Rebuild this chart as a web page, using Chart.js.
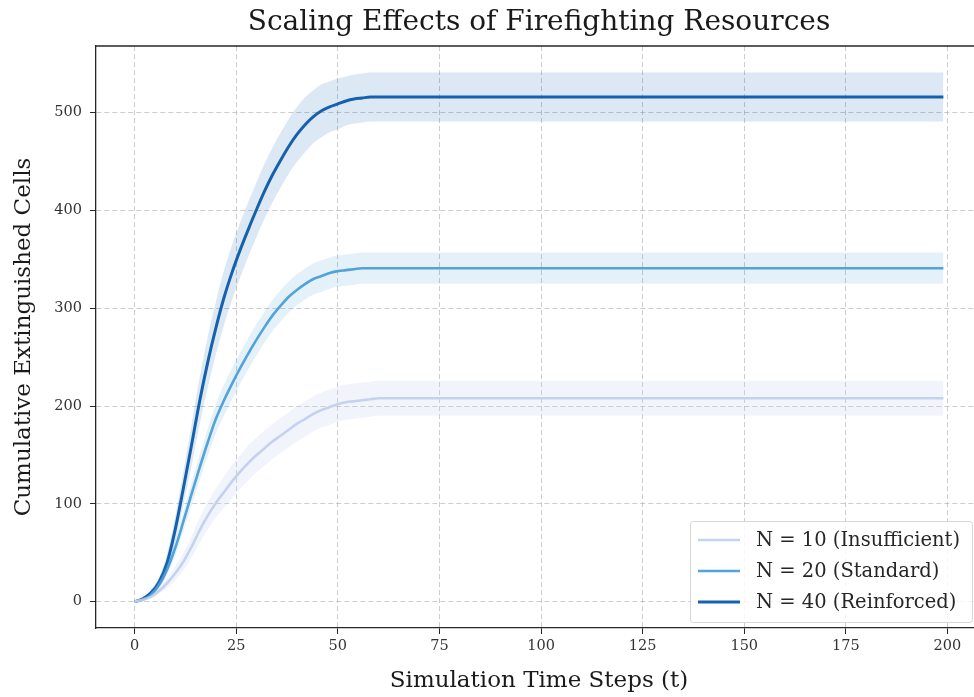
<!DOCTYPE html>
<html>
<head>
<meta charset="utf-8">
<script src="https://cdn.jsdelivr.net/npm/chart.js@4"></script>
<style>
  html, body { margin: 0; padding: 0; background: #fff; overflow: hidden; }
  #wrap { width: 982px; height: 697px; }
</style>
</head>
<body>
<div id="wrap"><canvas id="fireChart"></canvas></div>
<script>
const timeSteps = [0, 2, 4, 6, 8, 10, 12, 14, 16, 18, 20, 22, 24, 26, 28, 30, 32, 34, 36, 38, 40,
    42, 44, 46, 48, 50, 52, 54, 56, 58, 60, 70, 80, 90, 100, 110, 120, 130, 140, 150, 160, 170, 180, 190, 199];

// mean cumulative extinguished cells
const n10 = [0, 2, 5, 11, 19, 29, 41, 56, 73, 88, 101, 112, 123, 133, 142, 150, 157, 164, 170, 176, 182,
    187, 192, 196, 199, 202, 204, 205, 206, 207, 208, 208, 208, 208, 208, 208, 208, 208, 208, 208, 208, 208, 208, 208, 208];
const n20 = [0, 2, 7, 17, 33, 55, 82, 110, 137, 163, 187, 206, 223, 239, 254, 268, 281, 293, 303, 312, 319,
    325, 330, 333, 336, 338, 339, 340, 341, 341, 341, 341, 341, 341, 341, 341, 341, 341, 341, 341, 341, 341, 341, 341, 341];
const n40 = [0, 3, 9, 20, 40, 74, 116, 160, 205, 245, 280, 311, 337, 360, 381, 401, 420, 437, 452, 466, 478,
    488, 496, 502, 506, 509, 512, 514, 515, 516, 516, 516, 516, 516, 516, 516, 516, 516, 516, 516, 516, 516, 516, 516, 516];

// spread (std) around each mean
const sd10 = [0, 1, 2, 3, 5, 7, 9, 11, 13, 14, 15, 16, 17, 17, 18, 18, 18, 18, 18, 18, 18,
    18, 18, 18, 18, 18, 18, 18, 18, 18, 18, 18, 18, 18, 18, 18, 18, 18, 18, 18, 18, 18, 18, 18, 18];
const sd20 = [0, 1, 2, 4, 6, 8, 10, 12, 13, 14, 15, 16, 16, 16, 16, 16, 16, 16, 16, 16, 16,
    16, 16, 16, 16, 16, 16, 16, 16, 16, 16, 16, 16, 16, 16, 16, 16, 16, 16, 16, 16, 16, 16, 16, 16];
const sd40 = [0, 1, 3, 5, 9, 13, 17, 21, 24, 26, 27, 28, 28, 28, 28, 28, 28, 28, 28, 28, 28,
    28, 27, 27, 26, 26, 25, 25, 25, 25, 25, 25, 25, 25, 25, 25, 25, 25, 25, 25, 25, 25, 25, 25, 25];

const seriesLabels = ['N = 10 (Insufficient)', 'N = 20 (Standard)', 'N = 40 (Reinforced)'];
const seriesColors = ['#c6d3ef', '#52a4da', '#1562ae'];
const bandColors = ['rgba(198,211,239,0.24)', 'rgba(82,164,218,0.15)', 'rgba(21,98,174,0.15)'];
const xTicks = [0, 25, 50, 75, 100, 125, 150, 175, 200];
const yTicks = [0, 100, 200, 300, 400, 500];

const serif = "'DejaVu Serif', serif";
const means = [n10, n20, n40];
const sds = [sd10, sd20, sd40];

const pts = (vals) => timeSteps.map((t, i) => ({ x: t, y: vals[i] }));

const datasets = [];
means.forEach((m, k) => {
    datasets.push({
        label: 'upper' + k, data: pts(m.map((v, i) => v + sds[k][i])),
        borderWidth: 0, pointRadius: 0, fill: false, cubicInterpolationMode: 'monotone'
    });
    datasets.push({
        label: 'lower' + k, data: pts(m.map((v, i) => Math.max(0, v - sds[k][i]))),
        borderWidth: 0, pointRadius: 0, fill: '-1', backgroundColor: bandColors[k],
        cubicInterpolationMode: 'monotone'
    });
});
means.forEach((m, k) => {
    datasets.push({
        label: seriesLabels[k], data: pts(m),
        borderColor: seriesColors[k], borderWidth: k === 2 ? 3 : 2.6,
        pointRadius: 0, fill: false, cubicInterpolationMode: 'monotone'
    });
});

const framePlugin = {
    id: 'frame',
    afterDraw(chart) {
        const { ctx, chartArea: a } = chart;
        ctx.save();
        ctx.strokeStyle = '#262626';
        ctx.lineWidth = 1.3;
        ctx.beginPath();
        ctx.moveTo(a.left, a.top);
        ctx.lineTo(a.right, a.top);
        ctx.stroke();

        // title over the plot area
        ctx.fillStyle = '#1a1a1a';
        ctx.font = "28px " + serif;
        ctx.textAlign = 'center';
        ctx.textBaseline = 'middle';
        ctx.fillText('Scaling Effects of Firefighting Resources', (a.left + a.right) / 2, 23);

        // legend, lower right
        const bx = 690, by = 521, bw = 282, bh = 101;
        ctx.fillStyle = 'rgba(255,255,255,0.85)';
        ctx.strokeStyle = '#d6d6d6';
        ctx.lineWidth = 1;
        ctx.beginPath();
        ctx.roundRect(bx + 0.5, by + 0.5, bw, bh, 3);
        ctx.fill();
        ctx.stroke();
        ctx.font = "19.5px " + serif;
        ctx.textAlign = 'left';
        seriesLabels.forEach((lab, k) => {
            const yy = by + 19 + k * 31;
            ctx.strokeStyle = seriesColors[k];
            ctx.lineWidth = k === 2 ? 3 : 2.6;
            ctx.beginPath();
            ctx.moveTo(bx + 8, yy);
            ctx.lineTo(bx + 50, yy);
            ctx.stroke();
            ctx.fillStyle = '#262626';
            ctx.fillText(lab, bx + 66, yy + 1);
        });
        ctx.restore();
    }
};

const gridStyle = {
    color: 'rgba(170,170,170,0.6)',
    tickColor: '#262626',
    tickBorderDash: [],
    tickLength: 6,
    tickWidth: 1
};

new Chart(document.getElementById('fireChart'), {
    type: 'line',
    data: { datasets: datasets },
    plugins: [framePlugin],
    options: {
        responsive: true,
        maintainAspectRatio: false,
        animation: false,
        layout: { padding: { top: 46, left: 0, right: 0, bottom: 0 } },
        plugins: {
            legend: { display: false },
            title: { display: false },
            tooltip: { enabled: false }
        },
        scales: {
            x: {
                type: 'linear',
                min: -9.5,
                max: 208.5,
                afterFit: (s) => { s.height = 69; },
                afterBuildTicks: (s) => { s.ticks = xTicks.map(v => ({ value: v })); },
                grid: gridStyle,
                border: { color: '#262626', width: 1.3, dash: [5, 3] },
                ticks: { color: '#333', font: { family: serif, size: 14.5 }, padding: 4 },
                title: {
                    display: true, text: 'Simulation Time Steps (t)', color: '#1a1a1a',
                    font: { family: serif, size: 23 }, padding: { top: 0, bottom: 2 }
                }
            },
            y: {
                min: -26.9,
                max: 568.2,
                afterFit: (s) => { s.width = 96; },
                afterBuildTicks: (s) => { s.ticks = yTicks.map(v => ({ value: v })); },
                grid: gridStyle,
                border: { color: '#262626', width: 1.3, dash: [5, 3] },
                ticks: { color: '#333', font: { family: serif, size: 14.5 }, padding: 8 },
                title: {
                    display: true, text: 'Cumulative Extinguished Cells', color: '#1a1a1a',
                    font: { family: serif, size: 23 }, padding: { top: 10, bottom: 0 }
                }
            }
        }
    }
});
</script>
</body>
</html>
